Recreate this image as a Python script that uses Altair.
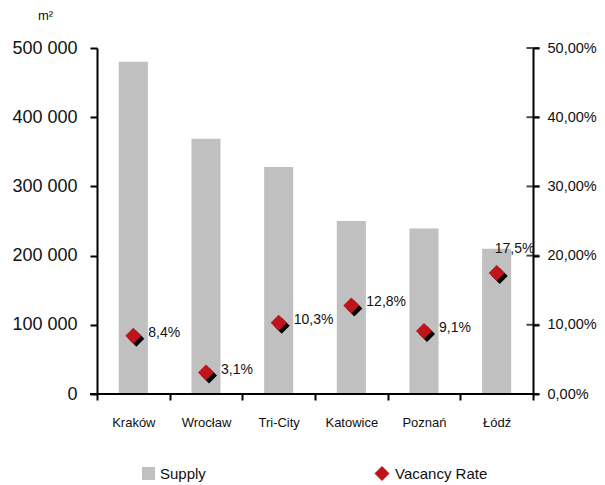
import altair as alt
import pandas as pd

# Office supply and vacancy by city
cities = ["Kraków", "Wrocław", "Tri-City", "Katowice", "Poznań", "Łódź"]
supply = [480000, 369000, 328000, 250000, 239000, 210000]
vacancy = [8.4, 3.1, 10.3, 12.8, 9.1, 17.5]
supply_ticks = [0, 100000, 200000, 300000, 400000, 500000]
vacancy_ticks = [0, 10, 20, 30, 40, 50]
legend_labels = ["Supply", "Vacancy Rate"]

FONT = "Liberation Sans, Arial, sans-serif"
GREY = "#C0C0C0"
RED = "#C0141C"
INK = "#111111"

W, H = 436, 346

df = pd.DataFrame({"city": cities, "supply": supply, "vacancy": vacancy})
ticks_df = pd.DataFrame({"vacancy": vacancy_ticks})

x_enc = alt.X(
    "city:N",
    sort=cities,
    title=None,
    scale=alt.Scale(paddingInner=0, paddingOuter=0),
    axis=alt.Axis(
        labelAngle=0, tickBand="extent", tickSize=6, tickWidth=2,
        domain=False, tickColor="black",
        labelPadding=16, labelFontSize=13, labelFont=FONT, labelColor=INK,
    ),
)

y_supply = alt.Y(
    "supply:Q",
    scale=alt.Scale(domain=[0, 500000], nice=False),
    axis=alt.Axis(
        orient="left", values=supply_ticks, grid=False,
        labelExpr="replace(format(datum.value, ',d'), ',', ' ')",
        tickSize=7, tickWidth=2, domainWidth=2,
        domainColor="black", tickColor="black",
        labelPadding=13, labelFontSize=18, labelFont=FONT, labelColor=INK,
        title="m²", titleAngle=0, titleX=-52, titleY=-33,
        titleAlign="center", titleBaseline="middle",
        titleFont=FONT, titleFontSize=13, titleFontWeight="normal", titleColor=INK,
    ),
)

y_vac_axis = alt.Axis(
    orient="right", values=vacancy_ticks, grid=False,
    labelExpr="replace(format(datum.value, '.2f'), '.', ',') + '%'",
    tickSize=6, tickWidth=2, domainWidth=2,
    domainColor="black", tickColor="black",
    labelPadding=8, labelFontSize=14.5, labelFont=FONT, labelColor=INK,
    title=None,
)
vac_scale = alt.Scale(domain=[0, 50], nice=False)
y_vac = alt.Y("vacancy:Q", scale=vac_scale, axis=y_vac_axis)

bars = alt.Chart(df).mark_bar(color=GREY, width=alt.RelativeBandSize(0.4)).encode(
    x=x_enc, y=y_supply
)

# Baseline running slightly past both vertical axes
baseline = alt.Chart(pd.DataFrame({"name": [legend_labels[0]]})).mark_rule(
    color="black", strokeWidth=2
).encode(x=alt.value(-7), x2=alt.value(W + 5), y=alt.value(H))

shadow = alt.Chart(df).mark_point(
    shape="diamond", filled=True, size=256, color="black", opacity=1, xOffset=3, yOffset=3
).encode(x=x_enc, y=y_vac)

diamonds = alt.Chart(df).mark_point(
    shape="diamond", filled=True, size=256, color=RED, opacity=1
).encode(x=x_enc, y=y_vac)

# Right-axis ticks crossing the axis line
cross_ticks = alt.Chart(ticks_df).mark_tick(
    color="black", thickness=2, size=13, orient="horizontal"
).encode(y=alt.Y("vacancy:Q", scale=vac_scale, axis=y_vac_axis), x=alt.value(W))

labelled = alt.Chart(df).transform_calculate(
    label="replace(format(datum.vacancy, '.1f'), '.', ',') + '%'"
)

labels = labelled.transform_filter(alt.datum.city != cities[-1]).mark_text(
    align="left", baseline="middle", dx=15, dy=-3, font=FONT, fontSize=14, color=INK
).encode(x=x_enc, y=y_vac, text="label:N")

label_last = labelled.transform_filter(alt.datum.city == cities[-1]).mark_text(
    align="left", baseline="middle", dx=-2, dy=-24, font=FONT, fontSize=14, color=INK
).encode(x=x_enc, y=y_vac, text="label:N")

rate_layer = alt.layer(cross_ticks, shadow, diamonds, labels, label_last)

# Legend drawn below the plot
leg_supply = pd.DataFrame({"name": [legend_labels[0]]})
leg_rate = pd.DataFrame({"name": [legend_labels[1]]})

leg_square = alt.Chart(leg_supply).mark_square(color=GREY, size=169, opacity=1).encode(
    x=alt.value(51.5), y=alt.value(425.5)
)
leg_square_text = alt.Chart(leg_supply).mark_text(
    align="left", baseline="middle", font=FONT, fontSize=15, color=INK
).encode(x=alt.value(63), y=alt.value(425.5), text="name:N")
leg_diamond = alt.Chart(leg_rate).mark_point(
    shape="diamond", filled=True, size=225, color=RED, opacity=1
).encode(x=alt.value(285), y=alt.value(425.5))
leg_diamond_text = alt.Chart(leg_rate).mark_text(
    align="left", baseline="middle", font=FONT, fontSize=15, color=INK
).encode(x=alt.value(298), y=alt.value(425.5), text="name:N")

legend = alt.layer(leg_square, leg_square_text, leg_diamond, leg_diamond_text)

chart = (
    alt.layer(bars, baseline, rate_layer, legend)
    .resolve_scale(y="independent")
    .properties(
        width=W,
        height=H,
        autosize=alt.AutoSizeParams(type="none"),
        padding={"left": 97, "top": 48, "right": 72, "bottom": 91},
        background="white",
    )
    .configure_view(stroke=None)
)

chart.save("out.html", embed_options={"renderer": "svg", "actions": False})
